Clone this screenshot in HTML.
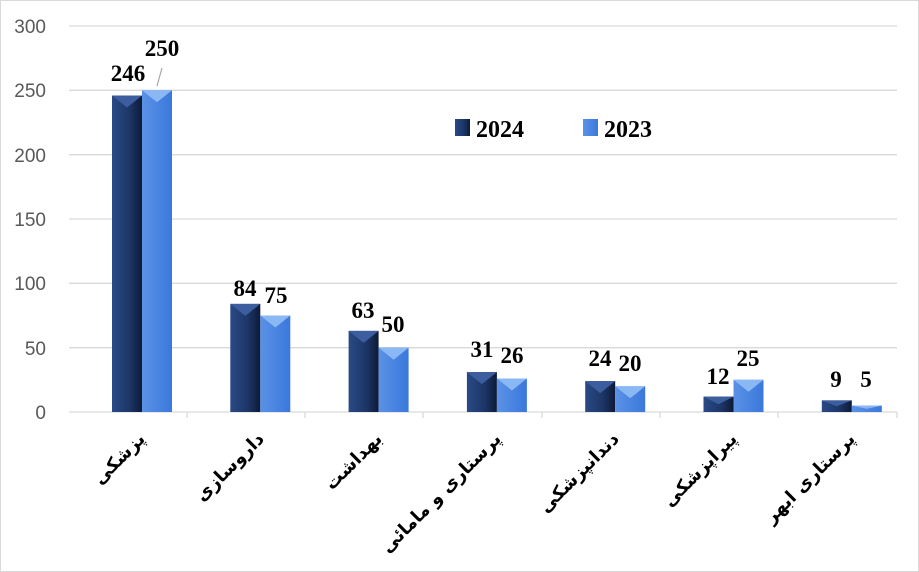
<!DOCTYPE html>
<html><head><meta charset="utf-8"><style>
body{margin:0;background:#fff}
svg{display:block}
.t{font-family:"Liberation Serif",serif;font-weight:bold;font-size:23px;fill:#000}
.ax{font-family:"Liberation Sans",sans-serif;font-size:19px;fill:#595959}
.c{font-family:"DejaVu Sans",sans-serif;font-weight:bold;font-size:18px;fill:#000}
</style></head><body>
<svg width="919" height="572" viewBox="0 0 919 572">
<defs>
<linearGradient id="d" x1="0" x2="1"><stop offset="0" stop-color="#2a4a86"/><stop offset="0.6" stop-color="#1c3566"/><stop offset="1" stop-color="#0d1a36"/></linearGradient>
<linearGradient id="l" x1="0" x2="1"><stop offset="0" stop-color="#5b92e6"/><stop offset="1" stop-color="#3a78dc"/></linearGradient>
</defs>
<rect x="0.5" y="0.5" width="918" height="571" fill="#fff" stroke="#d9d9d9"/>
<g stroke="#d9d9d9" stroke-width="1.3">
<line x1="69" x2="897" y1="26" y2="26"/><line x1="69" x2="897" y1="90.3" y2="90.3"/>
<line x1="69" x2="897" y1="154.7" y2="154.7"/><line x1="69" x2="897" y1="219" y2="219"/>
<line x1="69" x2="897" y1="283.3" y2="283.3"/><line x1="69" x2="897" y1="347.7" y2="347.7"/>
<line x1="69" x2="897" y1="412" y2="412"/>
<line x1="187" x2="187" y1="412" y2="418"/><line x1="305" x2="305" y1="412" y2="418"/>
<line x1="423" x2="423" y1="412" y2="418"/><line x1="542" x2="542" y1="412" y2="418"/>
<line x1="660" x2="660" y1="412" y2="418"/><line x1="778" x2="778" y1="412" y2="418"/>
<line x1="897" x2="897" y1="412" y2="418"/>
</g>
<g class="ax" text-anchor="end">
<text x="46" y="33">300</text><text x="46" y="97">250</text><text x="46" y="162">200</text>
<text x="46" y="226">150</text><text x="46" y="290">100</text><text x="46" y="355">50</text><text x="46" y="419">0</text>
</g>
<g fill="url(#d)">
<rect x="112" y="95.5" width="30" height="316.5"/>
<rect x="230.3" y="303.9" width="30" height="108.1"/>
<rect x="348.6" y="330.9" width="30" height="81.1"/>
<rect x="466.9" y="372.1" width="30" height="39.9"/>
<rect x="585.2" y="381.1" width="30" height="30.9"/>
<rect x="703.5" y="396.6" width="30" height="15.4"/>
<rect x="821.8" y="400.4" width="30" height="11.6"/>
</g>
<g fill="url(#l)">
<rect x="142" y="90.3" width="30" height="321.7"/>
<rect x="260.3" y="315.5" width="30" height="96.5"/>
<rect x="378.6" y="347.7" width="30" height="64.3"/>
<rect x="496.9" y="378.5" width="30" height="33.5"/>
<rect x="615.2" y="386.3" width="30" height="25.7"/>
<rect x="733.5" y="379.8" width="30" height="32.2"/>
<rect x="851.8" y="405.6" width="30" height="6.4"/>
</g>
<g fill="#3d5e9e">
<polygon points="112,95.5 142,95.5 127,107.5"/>
<polygon points="230.3,303.9 260.3,303.9 245.3,315.9"/>
<polygon points="348.6,330.9 378.6,330.9 363.6,342.9"/>
<polygon points="466.9,372.1 496.9,372.1 481.9,384.1"/>
<polygon points="585.2,381.1 615.2,381.1 600.2,393.1"/>
<polygon points="703.5,396.6 733.5,396.6 718.5,404.3"/>
<polygon points="821.8,400.4 851.8,400.4 836.8,406.2"/>
</g>
<g fill="#8ab8f5">
<polygon points="142,90.3 172,90.3 157,102.3"/>
<polygon points="260.3,315.5 290.3,315.5 275.3,327.5"/>
<polygon points="378.6,347.7 408.6,347.7 393.6,359.7"/>
<polygon points="496.9,378.5 526.9,378.5 511.9,390.5"/>
<polygon points="615.2,386.3 645.2,386.3 630.2,398.3"/>
<polygon points="733.5,379.8 763.5,379.8 748.5,391.8"/>
<polygon points="851.8,405.6 881.8,405.6 866.8,408.8"/>
</g>
<line x1="157" y1="86" x2="162" y2="68" stroke="#a6a6a6" stroke-width="1.2"/>
<g class="t" text-anchor="middle">
<text x="128" y="81">246</text><text x="162" y="56">250</text>
<text x="245" y="296">84</text><text x="276" y="303">75</text>
<text x="363" y="318">63</text><text x="393" y="332">50</text>
<text x="482" y="357">31</text><text x="512" y="363">26</text>
<text x="600" y="366">24</text><text x="630" y="371">20</text>
<text x="718" y="384">12</text><text x="748" y="366">25</text>
<text x="836" y="387">9</text><text x="866" y="387">5</text>
</g>
<rect x="455" y="119" width="15" height="17" fill="url(#d)"/>
<text class="t" x="476" y="137" style="font-size:24px">2024</text>
<rect x="583" y="119" width="15" height="17" fill="url(#l)"/>
<text class="t" x="604" y="137" style="font-size:24px">2023</text>
<g class="c" text-anchor="end">
<text transform="translate(146,440) rotate(-45)">پزشکی</text>
<text transform="translate(265,440) rotate(-45)">داروسازی</text>
<text transform="translate(383,440) rotate(-45)">بهداشت</text>
<text transform="translate(502,440) rotate(-45)">پرستاری و مامائی</text>
<text transform="translate(620,440) rotate(-45)">دندانپزشکی</text>
<text transform="translate(738,440) rotate(-45)">پیراپزشکی</text>
<text transform="translate(856,440) rotate(-45)">پرستاری ابهر</text>
</g>
</svg>
</body></html>
